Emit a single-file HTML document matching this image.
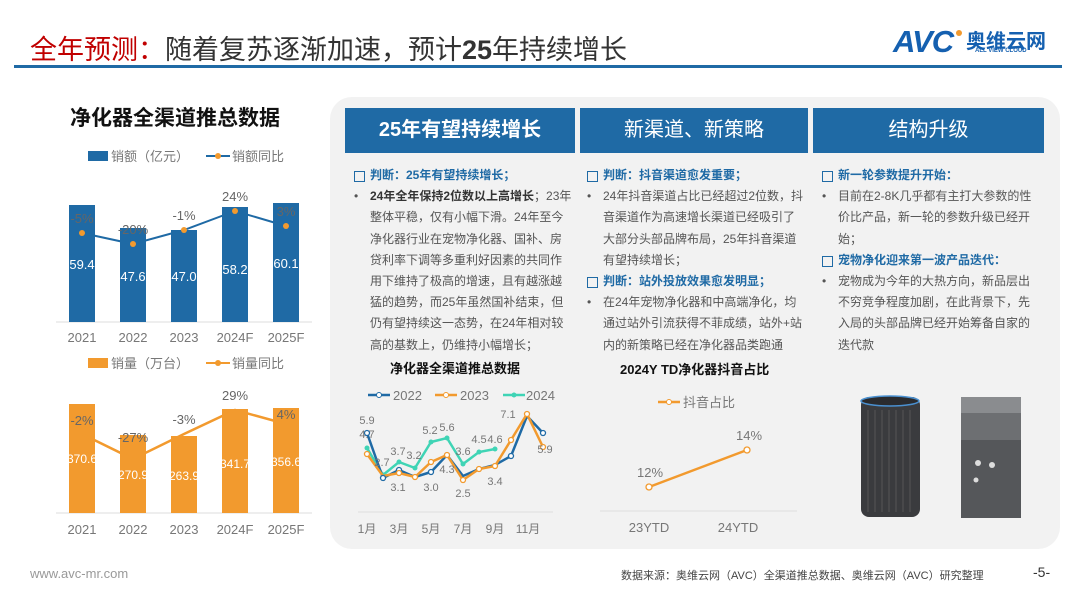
<!DOCTYPE html>
<html><head><meta charset="utf-8"><style>
*{margin:0;padding:0;box-sizing:border-box}
body{width:1080px;height:608px;background:#fff;position:relative;overflow:hidden;font-family:"Liberation Sans","Noto Sans CJK SC",sans-serif}
.a{position:absolute}
.panel{left:330px;top:97px;width:730px;height:452px;background:#f2f2f2;border-radius:22px}
.hd{top:108px;height:45px;background:#1f6aa5;color:#fff;font-size:20px;text-align:center;line-height:45px}
.col{font-size:12px;line-height:21.2px;color:#555;white-space:nowrap}
.col .j{color:#1f6aa5;font-weight:bold;position:relative;padding-left:18px}
.col .j:before{content:"";position:absolute;left:2px;top:6px;width:9px;height:9px;border:1.6px solid #1f6aa5}
.col .b{position:relative;padding-left:18px}
.col .b:before{content:"•";position:absolute;left:2px;top:0;color:#555}
</style></head><body>
<div class="a" style="left:30px;top:28px;font-size:27px;color:#333;white-space:nowrap"><span style="color:#c00000">全年预测：</span>随着复苏逐渐加速，预计<b>25</b>年持续增长</div>
<div class="a" style="left:14px;top:65px;width:1048px;height:3px;background:#1f6aa5"></div>
<div class="a" style="left:893px;top:24px;font-size:31px;font-weight:bold;color:#1560b0;font-style:italic;letter-spacing:-1px">AVC</div>
<div class="a" style="left:956px;top:30px;width:6px;height:6px;border-radius:50%;background:#f29a2e"></div>
<div class="a" style="left:966px;top:25px;font-size:20px;font-weight:bold;color:#1560b0">奥维云网</div>
<div class="a" style="left:975px;top:48px;font-size:6px;color:#1560b0;font-weight:bold">ALL VIEW CLOUD</div>

<div class="a" style="left:70px;top:102px;font-size:21px;font-weight:bold;color:#111">净化器全渠道推总数据</div>

<div class="a panel"></div>
<div class="a hd" style="left:345px;width:230px;font-weight:bold">25年有望持续增长</div>
<div class="a hd" style="left:580px;width:228px">新渠道、新策略</div>
<div class="a hd" style="left:813px;width:231px">结构升级</div>

<div class="a col" style="left:352px;top:165px;width:222px">
<div class="j">判断：25年有望持续增长；</div>
<div class="b"><b style="color:#333">24年全年保持2位数以上高增长</b>；23年<br>整体平稳，仅有小幅下滑。24年至今<br>净化器行业在宠物净化器、国补、房<br>贷利率下调等多重利好因素的共同作<br>用下维持了极高的增速，且有越涨越<br>猛的趋势，而25年虽然国补结束，但<br>仍有望持续这一态势，在24年相对较<br>高的基数上，仍维持小幅增长；</div>
</div>
<div class="a col" style="left:585px;top:165px;width:222px">
<div class="j">判断：抖音渠道愈发重要；</div>
<div class="b">24年抖音渠道占比已经超过2位数，抖<br>音渠道作为高速增长渠道已经吸引了<br>大部分头部品牌布局，25年抖音渠道<br>有望持续增长；</div>
<div class="j">判断：站外投放效果愈发明显；</div>
<div class="b">在24年宠物净化器和中高端净化，均<br>通过站外引流获得不菲成绩，站外+站<br>内的新策略已经在净化器品类跑通</div>
</div>
<div class="a col" style="left:820px;top:165px;width:212px">
<div class="j">新一轮参数提升开始：</div>
<div class="b">目前在2-8K几乎都有主打大参数的性<br>价比产品，新一轮的参数升级已经开<br>始；</div>
<div class="j">宠物净化迎来第一波产品迭代：</div>
<div class="b">宠物成为今年的大热方向，新品层出<br>不穷竞争程度加剧，在此背景下，先<br>入局的头部品牌已经开始筹备自家的<br>迭代款</div>
</div>

<svg class="a" style="left:0;top:0" width="1080" height="608" font-family="Liberation Sans, Noto Sans CJK SC, sans-serif">
<rect x="88" y="151" width="20" height="10" fill="#1f6aa5"/>
<text x="111" y="161" font-size="13" fill="#777">销额（亿元）</text>
<line x1="206" y1="156" x2="230" y2="156" stroke="#1f6aa5" stroke-width="2"/><circle cx="218" cy="156" r="3" fill="#f29a2e"/>
<text x="232" y="161" font-size="13" fill="#777">销额同比</text>
<line x1="56" y1="322" x2="312" y2="322" stroke="#ddd"/>
<g fill="#1f6aa5">
<rect x="69" y="205" width="26" height="117"/><rect x="120" y="228" width="26" height="94"/><rect x="171" y="230" width="26" height="92"/><rect x="222" y="207" width="26" height="115"/><rect x="273" y="203" width="26" height="119"/></g>
<polyline points="82,233 133,244 184,230 235,211 286,226" fill="none" stroke="#1f6aa5" stroke-width="2"/>
<g fill="#f29a2e"><circle cx="82" cy="233" r="3"/><circle cx="133" cy="244" r="3"/><circle cx="184" cy="230" r="3"/><circle cx="235" cy="211" r="3"/><circle cx="286" cy="226" r="3"/></g>
<g font-size="13" fill="#666" text-anchor="middle"><text x="82" y="223">-5%</text><text x="133" y="234">-20%</text><text x="184" y="220">-1%</text><text x="235" y="201">24%</text><text x="286" y="216">3%</text></g>
<g font-size="13" fill="#fff" text-anchor="middle"><text x="82" y="269">59.4</text><text x="133" y="281">47.6</text><text x="184" y="281">47.0</text><text x="235" y="274">58.2</text><text x="286" y="268">60.1</text></g>
<g font-size="13" fill="#777" text-anchor="middle"><text x="82" y="342">2021</text><text x="133" y="342">2022</text><text x="184" y="342">2023</text><text x="235" y="342">2024F</text><text x="286" y="342">2025F</text></g>
<rect x="88" y="358" width="20" height="10" fill="#f29a2e"/>
<text x="111" y="368" font-size="13" fill="#777">销量（万台）</text>
<line x1="206" y1="363" x2="230" y2="363" stroke="#f29a2e" stroke-width="2"/><circle cx="218" cy="363" r="3" fill="#f29a2e"/>
<text x="232" y="368" font-size="13" fill="#777">销量同比</text>
<line x1="56" y1="513" x2="312" y2="513" stroke="#ddd"/>
<g fill="#f29a2e">
<rect x="69" y="404" width="26" height="109"/><rect x="120" y="435" width="26" height="78"/><rect x="171" y="436" width="26" height="77"/><rect x="222" y="409" width="26" height="104"/><rect x="273" y="408" width="26" height="105"/></g>
<polyline points="82,434 133,459 184,434 235,410 286,424" fill="none" stroke="#f29a2e" stroke-width="2.5"/>
<g font-size="13" fill="#666" text-anchor="middle"><text x="82" y="425">-2%</text><text x="133" y="442">-27%</text><text x="184" y="424">-3%</text><text x="235" y="400">29%</text><text x="286" y="419">4%</text></g>
<g font-size="12" fill="#fff" text-anchor="middle"><text x="82" y="463">370.6</text><text x="133" y="479">270.9</text><text x="184" y="480">263.9</text><text x="235" y="468">341.7</text><text x="286" y="466">356.6</text></g>
<g font-size="13" fill="#777" text-anchor="middle"><text x="82" y="534">2021</text><text x="133" y="534">2022</text><text x="184" y="534">2023</text><text x="235" y="534">2024F</text><text x="286" y="534">2025F</text></g>

<text x="455" y="373" font-size="13" font-weight="bold" fill="#111" text-anchor="middle">净化器全渠道推总数据</text>
<line x1="368" y1="395" x2="390" y2="395" stroke="#1f6aa5" stroke-width="2.5"/><circle cx="379" cy="395" r="2.5" fill="#fff" stroke="#1f6aa5"/>
<text x="393" y="400" font-size="13" fill="#777">2022</text>
<line x1="435" y1="395" x2="457" y2="395" stroke="#f29a2e" stroke-width="2.5"/><circle cx="446" cy="395" r="2.5" fill="#fff" stroke="#f29a2e"/>
<text x="460" y="400" font-size="13" fill="#777">2023</text>
<line x1="503" y1="395" x2="525" y2="395" stroke="#3fd4b5" stroke-width="2.5"/><circle cx="514" cy="395" r="2.5" fill="#3fd4b5"/>
<text x="526" y="400" font-size="13" fill="#777">2024</text>
<line x1="358" y1="512" x2="553" y2="512" stroke="#ddd"/>
<polyline points="367,448 383,475 399,462 415,468 431,442 447,438 463,464 479,452 495,449" fill="none" stroke="#3fd4b5" stroke-width="2.5"/>
<g fill="#3fd4b5"><circle cx="367" cy="448" r="2.5"/><circle cx="383" cy="475" r="2.5"/><circle cx="399" cy="462" r="2.5"/><circle cx="415" cy="468" r="2.5"/><circle cx="431" cy="442" r="2.5"/><circle cx="447" cy="438" r="2.5"/><circle cx="463" cy="464" r="2.5"/><circle cx="479" cy="452" r="2.5"/><circle cx="495" cy="449" r="2.5"/></g>
<polyline points="367,433 383,478 399,470 415,477 431,472 447,455 463,476 479,469 495,465 511,456 527,416 543,433" fill="none" stroke="#1f6aa5" stroke-width="2.5"/>
<polyline points="367,454 383,476 399,473 415,477 431,462 447,455 463,480 479,469 495,466 511,440 527,414 543,447" fill="none" stroke="#f29a2e" stroke-width="2.5"/>
<g fill="#fff" stroke-width="1.3">
<g stroke="#1f6aa5"><circle cx="367" cy="433" r="2.5"/><circle cx="383" cy="478" r="2.5"/><circle cx="399" cy="470" r="2.5"/><circle cx="431" cy="472" r="2.5"/><circle cx="511" cy="456" r="2.5"/><circle cx="543" cy="433" r="2.5"/></g>
<g stroke="#f29a2e"><circle cx="367" cy="454" r="2.5"/><circle cx="399" cy="473" r="2.5"/><circle cx="415" cy="477" r="2.5"/><circle cx="431" cy="462" r="2.5"/><circle cx="447" cy="455" r="2.5"/><circle cx="463" cy="480" r="2.5"/><circle cx="479" cy="469" r="2.5"/><circle cx="495" cy="466" r="2.5"/><circle cx="511" cy="440" r="2.5"/><circle cx="527" cy="414" r="2.5"/><circle cx="543" cy="447" r="2.5"/></g></g>
<g font-size="11" fill="#777" text-anchor="middle">
<text x="367" y="424">5.9</text><text x="367" y="438">4.7</text><text x="382" y="466">2.7</text><text x="398" y="455">3.7</text><text x="398" y="491">3.1</text><text x="414" y="459">3.2</text><text x="431" y="491">3.0</text><text x="430" y="434">5.2</text><text x="447" y="431">5.6</text><text x="447" y="473">4.3</text><text x="463" y="455">3.6</text><text x="463" y="497">2.5</text><text x="479" y="443">4.5</text><text x="495" y="443">4.6</text><text x="495" y="485">3.4</text><text x="508" y="418">7.1</text><text x="545" y="453">5.9</text></g>
<g font-size="12" fill="#777" text-anchor="middle"><text x="367" y="533">1月</text><text x="399" y="533">3月</text><text x="431" y="533">5月</text><text x="463" y="533">7月</text><text x="495" y="533">9月</text><text x="528" y="533">11月</text></g>

<text x="620" y="374" font-size="13" font-weight="bold" fill="#111">2024Y TD净化器抖音占比</text>
<line x1="658" y1="402" x2="680" y2="402" stroke="#f29a2e" stroke-width="2.5"/><circle cx="669" cy="402" r="2.5" fill="#fff" stroke="#f29a2e"/>
<text x="683" y="407" font-size="13" fill="#777">抖音占比</text>
<line x1="600" y1="511" x2="797" y2="511" stroke="#ddd"/>
<line x1="649" y1="487" x2="747" y2="450" stroke="#f29a2e" stroke-width="2.5"/>
<circle cx="649" cy="487" r="3" fill="#fff" stroke="#f29a2e" stroke-width="1.3"/><circle cx="747" cy="450" r="3" fill="#fff" stroke="#f29a2e" stroke-width="1.3"/>
<g font-size="13" fill="#777" text-anchor="middle"><text x="650" y="477">12%</text><text x="749" y="440">14%</text><text x="649" y="532">23YTD</text><text x="738" y="532">24YTD</text></g>

<rect x="861" y="397" width="59" height="120" rx="8" fill="#3a3b3e"/>
<ellipse cx="890" cy="401" rx="29" ry="5" fill="#2a2b2e" stroke="#4a90d0" stroke-width="1.5"/>
<g stroke="#555" stroke-width="1"><line x1="868" y1="410" x2="868" y2="512"/><line x1="875" y1="410" x2="875" y2="512"/><line x1="882" y1="410" x2="882" y2="512"/><line x1="889" y1="410" x2="889" y2="512"/><line x1="896" y1="410" x2="896" y2="512"/><line x1="903" y1="410" x2="903" y2="512"/><line x1="910" y1="410" x2="910" y2="512"/></g>
<rect x="961" y="397" width="60" height="121" fill="#6d6f72"/>
<rect x="961" y="397" width="60" height="16" fill="#8a8c8f"/>
<rect x="961" y="440" width="60" height="78" fill="#55575a"/>
<g fill="#ddd"><circle cx="978" cy="463" r="3"/><circle cx="992" cy="465" r="3"/><circle cx="976" cy="480" r="2.5"/></g>
</svg>

<div class="a" style="left:30px;top:566px;font-size:13px;color:#999">www.avc-mr.com</div>
<div class="a" style="left:621px;top:567px;font-size:11px;color:#444;white-space:nowrap">数据来源：奥维云网（AVC）全渠道推总数据、奥维云网（AVC）研究整理</div>
<div class="a" style="left:1033px;top:564px;font-size:14px;color:#333">-5-</div>
</body></html>
